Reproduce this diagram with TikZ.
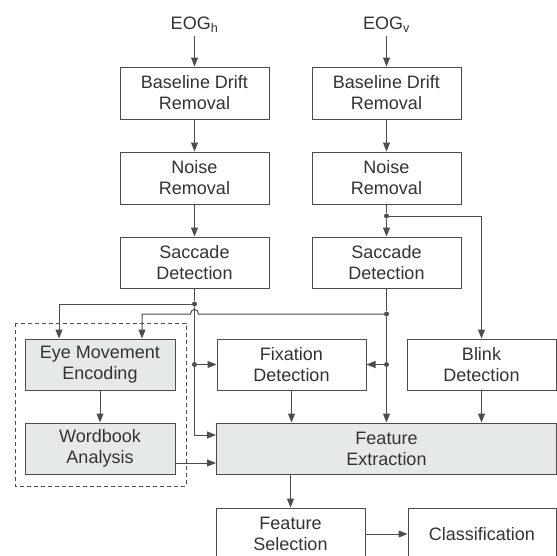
\documentclass[tikz,border=0pt]{standalone}
\usepackage{fontspec}
\setmainfont{Liberation Sans}
\usepackage{tikz}
\usetikzlibrary{calc}
\usetikzlibrary{arrows.meta}
\definecolor{linegray}{HTML}{4D4D4D}
\definecolor{boxfill}{HTML}{E6E9EA}
\definecolor{textgray}{HTML}{333333}
\tikzset{
    box/.style={draw=linegray, fill=white, line width=1pt, text=textgray,
        minimum width=149pt, minimum height=52pt, inner sep=0pt, align=center,
        font=\fontsize{18}{21}\selectfont},
    shaded/.style={box, fill=boxfill},
    arr/.style={-{Triangle[length=9pt,width=7pt]}, draw=linegray, line width=1pt},
    wire/.style={draw=linegray, line width=1pt},
    dot/.style={circle, fill=linegray, inner sep=0pt, minimum size=5pt},
}

\begin{document}
\begin{tikzpicture}[x=1pt, y=-1pt]

    \useasboundingbox (0,0) rectangle (557,555);
    \clip (0,0) rectangle (557,555);

    % Draw the two input signals
    \node[text=textgray, font=\fontsize{18}{21}\selectfont] (eogh) at (194.5, 25) {EOG\textsubscript{h}};
    \node[text=textgray, font=\fontsize{18}{21}\selectfont] (eogv) at (386.5, 25) {EOG\textsubscript{v}};

    % Draw the preprocessing boxes (left and right columns)
    \node[box] (bdh) at (194.5, 93) {Baseline Drift\\Removal};
    \node[box] (bdv) at (386.5, 93) {Baseline Drift\\Removal};
    \node[box] (nrh) at (194.5, 178) {Noise\\Removal};
    \node[box] (nrv) at (386.5, 178) {Noise\\Removal};
    \node[box, minimum height=51pt] (sdh) at (194.5, 262.5) {Saccade\\Detection};
    \node[box, minimum height=51pt] (sdv) at (386.5, 262.5) {Saccade\\Detection};

    % Draw the detection and analysis boxes
    \node[shaded, minimum width=150pt, minimum height=51pt] (eme) at (100, 364.5) {Eye Movement\\Encoding};
    \node[box, minimum height=51pt] (fix) at (291.5, 364.5) {Fixation\\Detection};
    \node[box, minimum height=51pt] (blink) at (481.5, 364.5) {Blink\\Detection};
    \node[shaded, minimum width=150pt, minimum height=51pt] (wba) at (100, 448.5) {Wordbook\\Analysis};
    \node[shaded, minimum width=340pt, minimum height=51pt] (fe) at (386.5, 448.5) {Feature\\Extraction};

    % Draw the last two boxes (cut at the bottom)
    \node[box] (fs) at (290.5, 534) {Feature\\Selection};
    \node[box, minimum width=148pt] (cls) at (482, 534) {Classification};

    % Dashed frame round the gray boxes
    \draw[linegray, line width=0.8pt, dash pattern=on 4pt off 3pt] (15, 323) rectangle (186, 486);

    % Junction dots
    \node[dot] (j1) at (194.5, 304) {};
    \node[dot] (j3) at (194.5, 364.5) {};
    \node[dot] (j4) at (386.5, 216) {};
    \node[dot] (j5) at (386.5, 314) {};
    \node[dot] (j6) at (386.5, 364.5) {};

    % Arrows down the two columns
    \draw[arr] (eogh) -- (bdh);
    \draw[arr] (eogv) -- (bdv);
    \draw[arr] (bdh) -- (nrh);
    \draw[arr] (bdv) -- (nrv);
    \draw[arr] (nrh) -- (sdh);
    \draw[wire] (nrv) -- (j4);
    \draw[arr] (j4) -- (sdv);
    \draw[arr] (j4) -| (blink);

    % Left saccade branch
    \draw[wire] (sdh) -- (j1);
    \draw[arr] (j1) -| ([xshift=-41pt]eme.north);
    \draw[wire] (j1) -- (j3);
    \draw[arr] (j3) -- (fix);
    \draw[arr] (j3) |- ([yshift=13.5pt]fe.west);

    % Right saccade branch (hops over the left one)
    \draw[wire] (sdv) -- (j5);
    \draw[wire] (j5) -- (j6);
    \draw[arr] (j6) -- (fix);
    \draw[arr] (j6) -- (fe);
    \draw[arr] (j5) -- ($(j5 -| j1)+(4,0)$)
        .. controls +(0,-6) and +(0,-6) .. ($(j5 -| j1)+(-4,0)$)
        -| ([xshift=42pt]eme.north);

    % Into the feature extraction and on
    \draw[arr] (eme) -- (wba);
    \draw[arr] ([yshift=-14.5pt]wba.east) -- ([yshift=-14.5pt]wba.east -| fe.west);
    \draw[arr] (fix) -- (fix |- fe.north);
    \draw[arr] (blink) -- (blink |- fe.north);
    \draw[arr] (fs |- fe.south) -- (fs);
    \draw[arr] (fs) -- (cls);

\end{tikzpicture}
\end{document}
